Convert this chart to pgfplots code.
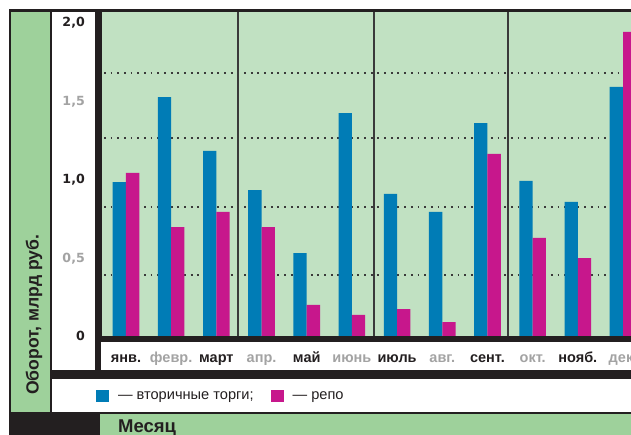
\documentclass[border=0pt]{standalone}
\usepackage{pgfplots}
\pgfplotsset{compat=1.18}
\usepackage{fontspec}
\setmainfont{Liberation Sans}
\newfontfamily\numfont{DejaVu Sans}
\definecolor{darkc}{HTML}{231F20}
\definecolor{bandg}{HTML}{9ED19B}
\definecolor{plotg}{HTML}{C1E1C2}
\definecolor{blueC}{HTML}{007CB6}
\definecolor{magC}{HTML}{C7178C}
\definecolor{lg}{HTML}{A3A3A3}
\definecolor{gridc}{HTML}{3A3A3A}
\begin{document}
\begin{tikzpicture}[x=1bp,y=1bp]
\useasboundingbox (0,0) rectangle (631,435);
\clip (0,0) rectangle (631,435);
\fill[white] (0,0) rectangle (631,435);
\fill[darkc] (9,0) rectangle (640,426);
\fill[bandg] (11,23.3) rectangle (50,422.5);
\fill[white] (51.7,65) rectangle (95,422.5);
\fill[white] (101,65) rectangle (640,93);
\fill[white] (51.7,23.3) rectangle (640,55.7);
\fill[bandg] (100,0) rectangle (640,21);
\begin{axis}[
  at={(101.5bp,99bp)}, anchor=south west,
  scale only axis, width=544.1bp, height=323.5bp,
  xmin=-0.542, xmax=11.5, ymin=0, ymax=2.063,
  axis background/.style={fill=plotg},
  axis line style={draw=none},
  major tick length=0pt,
  ybar=0pt, bar width=13.3bp,
  xtick={0,1,2,3,4,5,6,7,8,9,10,11},
  xticklabels={{янв.},{\color{lg}февр.},{март},{\color{lg}апр.},{май},{\color{lg}июнь},{июль},{\color{lg}авг.},{сент.},{\color{lg}окт.},{нояб.},{\color{lg}дек.}},
  xticklabel style={font=\fontsize{14.5bp}{17bp}\selectfont\bfseries, text=darkc, anchor=base, inner sep=0pt, yshift=-27bp},
  ytick={0,0.5,1,1.5,2},
  yticklabels={{0},{\color{lg}0,5},{1,0},{\color{lg}1,5},{2,0}},
  yticklabel style={font=\numfont\fontsize{12.6bp}{15bp}\selectfont\bfseries, text=darkc, anchor=base east, inner sep=0pt, xshift=-16.5bp, yshift=-4.6bp},
  extra y ticks={0.391,0.825,1.261,1.675},
  extra y tick labels={},
  extra y tick style={grid=major, major grid style={gridc, line width=1.8bp, dash pattern=on 1.8bp off 4.87bp, dash phase=-2.5bp}},
  extra x ticks={2.472,5.489,8.455},
  extra x tick labels={},
  extra x tick style={grid=major, major grid style={gridc, line width=1.7bp, solid}},
  legend columns=2,
  legend image code/.code={\fill[#1] (0bp,-2.3bp) rectangle (13bp,9.7bp);},
  legend style={at={(axis description cs:0,0)}, anchor=west, xshift=-5.5bp, yshift=-60bp,
    draw=none, fill=none, inner sep=0pt, outer sep=0pt,
    font=\fontsize{14.6bp}{17bp}\selectfont, text=darkc,
    nodes={inner sep=0pt, anchor=base west},
    /tikz/every odd column/.append style={column sep=9bp},
    /tikz/every even column/.append style={column sep=17bp}},
]
\addplot[fill=blueC, draw=none] coordinates {
(0,0.982) (1,1.524) (2,1.180) (3,0.931) (4,0.529) (5,1.422)
(6,0.906) (7,0.791) (8,1.358) (9,0.989) (10,0.855) (11,1.588)};
\addlegendentry{— вторичные торги;}
\addplot[fill=magC, draw=none] coordinates {
(0,1.040) (1,0.695) (2,0.791) (3,0.695) (4,0.198) (5,0.134)
(6,0.172) (7,0.089) (8,1.161) (9,0.625) (10,0.497) (11,1.939)};
\addlegendentry{— репо}
\end{axis}
\node[rotate=90, anchor=base west, inner sep=0pt, text=darkc, font=\fontsize{17.6bp}{20bp}\selectfont\bfseries] at (38.5,40) {Оборот, млрд руб.};
\node[anchor=base west, inner sep=0pt, text=darkc, font=\fontsize{18.5bp}{21bp}\selectfont\bfseries] at (118,2) {Месяц};
\end{tikzpicture}
\end{document}
